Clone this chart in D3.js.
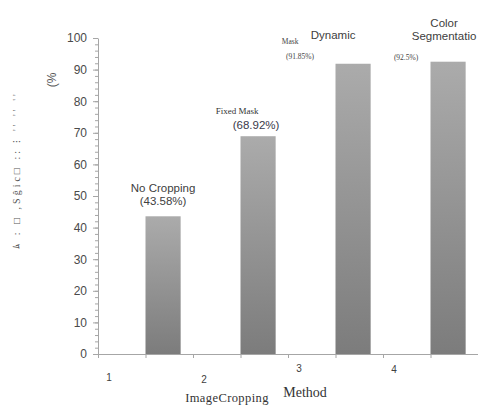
<!DOCTYPE html>
<html>
<head>
<meta charset="utf-8">
<script src="https://cdn.jsdelivr.net/npm/d3@7"></script>
<style>
  body { margin: 0; background: #fff; }
  svg { display: block; }
  .axis path, .axis line { stroke: #a6a6a6; }
</style>
</head>
<body>
<svg id="chart"></svg>
<script>
const methods = ["No Cropping", "Fixed Mask", "Dynamic Mask", "Color Segmentation"];
const accuracy = [43.58, 68.92, 91.85, 92.5];
const xTickLabels = ["1", "2", "3", "4"];
const yTickValues = [0, 10, 20, 30, 40, 50, 60, 70, 80, 90, 100];

// text shown over each bar, as it appears in the picture
const barTexts = [
  [{ t: "No Cropping", k: "sans" }, { t: "(43.58%)", k: "sans" }],
  [{ t: "Fixed Mask", k: "serif" }, { t: "(68.92%)", k: "sansb" }],
  [{ t: "Dynamic", k: "sans" }, { t: "Mask", k: "tiny" }, { t: "(91.85%)", k: "tiny" }],
  [{ t: "Color", k: "sans" }, { t: "Segmentatio", k: "sans" }, { t: "(92.5%)", k: "tiny" }],
];

// offsets from bar centre / bar top for every text line
const textLayout = [
  [[0, -24], [0, -11]],
  [[-21, -22], [-2, -7]],
  [[-20, -25], [-63, -20], [-53, -5]],
  [[-4, -35], [-4, -22], [-42, -2]],
];

const width = 478, height = 405;
const svg = d3.select("#chart").attr("width", width).attr("height", height);

const x0 = 98, x1 = 478;
const x = d3.scaleBand().domain(d3.range(8)).range([x0, x1]);
const xLin = d3.scaleLinear().domain([0, 8]).range([x0, x1]);
const y = d3.scaleLinear().domain([0, 100]).range([354, 38]);

const defs = svg.append("defs");
const grad = defs.append("linearGradient")
  .attr("id", "barGrad")
  .attr("x1", "0").attr("y1", "0").attr("x2", "0").attr("y2", "1");
grad.append("stop").attr("offset", "0%").attr("stop-color", "#ababab");
grad.append("stop").attr("offset", "100%").attr("stop-color", "#7c7c7c");

// minor y ticks
svg.append("g")
  .attr("class", "axis")
  .attr("transform", `translate(${x0},0)`)
  .call(d3.axisLeft(y).tickValues(d3.range(0, 100, 2)).tickSize(3).tickFormat(""))
  .call((g) => g.select(".domain").remove());

// major y axis
svg.append("g")
  .attr("class", "axis")
  .attr("transform", `translate(${x0},0)`)
  .call(d3.axisLeft(y).tickValues(yTickValues).tickSize(5).tickSizeOuter(0).tickPadding(6))
  .call((g) => g.selectAll("text")
    .attr("font-family", "Liberation Sans, Arial, sans-serif")
    .attr("font-size", "12px")
    .attr("fill", "#4a4a4a"));

// x axis
svg.append("g")
  .attr("class", "axis")
  .attr("transform", `translate(0,${y(0)})`)
  .call(d3.axisBottom(xLin).tickValues(d3.range(0, 9)).tickSize(4).tickSizeOuter(0).tickFormat(""));

// bars
svg.selectAll("rect.bar")
  .data(accuracy)
  .enter()
  .append("rect")
  .attr("class", "bar")
  .attr("x", (d, i) => x(2 * i + 1))
  .attr("y", (d) => y(d))
  .attr("width", x.bandwidth() * 0.74)
  .attr("height", (d) => y(0) - y(d))
  .attr("fill", "url(#barGrad)");

// texts above bars
const styles = {
  sans: { f: "Liberation Sans, Arial, sans-serif", s: 11.5, c: "#404040" },
  sansb: { f: "Liberation Sans, Arial, sans-serif", s: 11.5, c: "#3a3a4a" },
  serif: { f: "Liberation Serif, Times New Roman, serif", s: 9, c: "#333" },
  tiny: { f: "Liberation Serif, Times New Roman, serif", s: 7.5, c: "#444" },
};

accuracy.forEach((v, i) => {
  const cx = x(2 * i + 1) + (x.bandwidth() * 0.74) / 2;
  const top = y(v);
  barTexts[i].forEach((line, j) => {
    const st = styles[line.k];
    const [dx, dy] = textLayout[i][j];
    svg.append("text")
      .attr("x", cx + dx)
      .attr("y", top + dy)
      .attr("text-anchor", "middle")
      .attr("font-family", st.f)
      .attr("font-size", st.s + "px")
      .attr("fill", st.c)
      .text(line.t);
  });
});

// x tick labels (placed irregularly as in the source)
const xLabelDy = [27, 29, 18, 19];
xTickLabels.forEach((t, i) => {
  svg.append("text")
    .attr("x", x(2 * i) + x.bandwidth() * 0.23)
    .attr("y", y(0) + xLabelDy[i])
    .attr("text-anchor", "middle")
    .attr("font-family", "Liberation Sans, Arial, sans-serif")
    .attr("font-size", "10px")
    .attr("fill", "#404040")
    .text(t);
});

// axis titles
svg.append("text")
  .attr("x", 305)
  .attr("y", 397)
  .attr("text-anchor", "middle")
  .attr("font-family", "Liberation Serif, Times New Roman, serif")
  .attr("font-size", "14px")
  .attr("fill", "#333")
  .text("Method");

svg.append("text")
  .attr("x", 227)
  .attr("y", 402)
  .attr("text-anchor", "middle")
  .attr("font-family", "Liberation Serif, Times New Roman, serif")
  .attr("font-size", "12.5px")
  .attr("letter-spacing", "0.4px")
  .attr("fill", "#333")
  .text("ImageCropping");

svg.append("text")
  .attr("transform", "translate(56,80) rotate(-90)")
  .attr("text-anchor", "middle")
  .attr("font-family", "Liberation Sans, Arial, sans-serif")
  .attr("font-size", "12px")
  .attr("fill", "#555")
  .text("(%");

svg.append("text")
  .attr("transform", "translate(20,170) rotate(-90)")
  .attr("text-anchor", "middle")
  .attr("font-family", "Liberation Serif, Times New Roman, serif")
  .attr("font-size", "10px")
  .attr("letter-spacing", "3px")
  .attr("fill", "#555")
  .text("ﾑ : □ ,Sĝic□ :: ⁝  ''  '' ''");
</script>
</body>
</html>
